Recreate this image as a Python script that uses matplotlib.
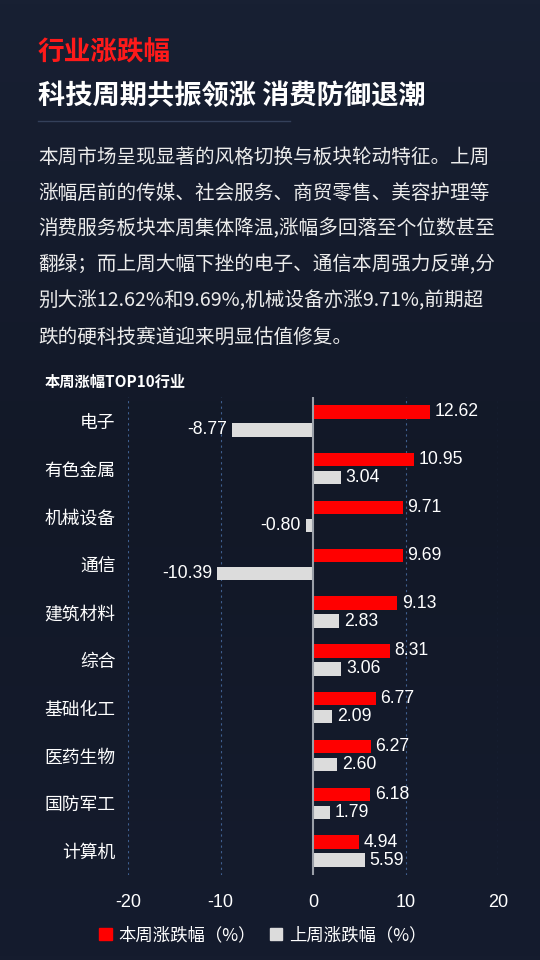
import matplotlib
matplotlib.use("Agg")
import matplotlib.pyplot as plt
import numpy as np
from matplotlib.patches import Rectangle
from matplotlib.colors import LinearSegmentedColormap

plt.rcParams['font.family'] = ['Noto Sans CJK SC', 'DejaVu Sans']

categories = ["电子", "有色金属", "机械设备", "通信", "建筑材料", "综合", "基础化工", "医药生物", "国防军工", "计算机"]
this_week = [12.62, 10.95, 9.71, 9.69, 9.13, 8.31, 6.77, 6.27, 6.18, 4.94]
last_week = [-8.77, 3.04, -0.80, -10.39, 2.83, 3.06, 2.09, 2.60, 1.79, 5.59]
xticks = [-20, -10, 0, 10, 20]

title = "行业涨跌幅"
subtitle = "科技周期共振领涨 消费防御退潮"
paragraph = [
    "本周市场呈现显著的风格切换与板块轮动特征。上周",
    "涨幅居前的传媒、社会服务、商贸零售、美容护理等",
    "消费服务板块本周集体降温,涨幅多回落至个位数甚至",
    "翻绿；而上周大幅下挫的电子、通信本周强力反弹,分",
    "别大涨12.62%和9.69%,机械设备亦涨9.71%,前期超",
    "跌的硬科技赛道迎来明显估值修复。",
]
chart_title = "本周涨幅TOP10行业"
legend_labels = ["本周涨跌幅（%）", "上周涨跌幅（%）"]

BG = "#141a2b"
RED = "#ff0000"
GRAY = "#dcdcdc"
NUMFONT = ['Liberation Sans', 'DejaVu Sans']

fig = plt.figure(figsize=(5.4, 9.6), dpi=100)
fig.patch.set_facecolor(BG)

bg = fig.add_axes([0, 0, 1, 1], zorder=-10)
grad = np.linspace(0, 1, 256).reshape(-1, 1)
cmap = LinearSegmentedColormap.from_list("bg", ["#182033", "#121827", "#151c2e"])
bg.imshow(grad, aspect='auto', cmap=cmap, extent=[0, 1, 0, 1])
bg.axis('off')

fig.text(38/540, 1-52/960, title, color="#ff1a1a", fontsize=19.2, fontweight='bold', va='center', ha='left')
fig.text(38/540, 1-96/960, subtitle, color="white", fontsize=19.6, fontweight='bold', va='center', ha='left')
fig.add_artist(plt.Line2D([38/540, 290/540], [1-121/960, 1-121/960], color="#34405a", lw=1))

for i, line in enumerate(paragraph):
    fig.text(38/540, 1-(157+36*i)/960, line, color="#ececec", fontsize=14.1, va='center', ha='left')

fig.text(45/540, 1-382/960, chart_title, color="white", fontsize=11, fontweight='bold', va='center', ha='left')

ax = fig.add_axes([128/540, 1-875/960, 370/540, 478/960])
ax.set_facecolor('none')
y = np.arange(len(categories))
h = 0.28
off = 0.19
ax.barh(y - off, this_week, height=h, color=RED, zorder=3)
ax.barh(y + off, last_week, height=h, color=GRAY, zorder=3)

ax.set_xlim(-20, 20)
ax.set_ylim(len(categories) - 0.5, -0.5)
ax.set_xticks(xticks)
ax.set_xticklabels([str(t) for t in xticks], family=NUMFONT)
ax.set_yticks(y)
ax.set_yticklabels(categories)
ax.tick_params(axis='x', colors='white', labelsize=13, length=0, pad=14)
ax.tick_params(axis='y', colors='white', labelsize=12.8, length=0, pad=9)
for s in ax.spines.values():
    s.set_visible(False)
for t in [-20, -10, 10, 20]:
    ax.axvline(t, color="#3f5f8f", lw=0.8, ls=(0, (2, 3)), zorder=1)
ax.axvline(0, color="#9a9fa8", lw=1.5, zorder=4)

for yi, v in zip(y - off, this_week):
    ax.text(v + (0.5 if v >= 0 else -0.5), yi, f"{v:.2f}", color="white", fontsize=12.7,
            va='center', ha='left' if v >= 0 else 'right', family=NUMFONT)
for yi, v in zip(y + off, last_week):
    ax.text(v + (0.5 if v >= 0 else -0.5), yi, f"{v:.2f}", color="white", fontsize=12.7,
            va='center', ha='left' if v >= 0 else 'right', family=NUMFONT)

leg = ax.legend(handles=[Rectangle((0, 0), 1, 1, color=RED), Rectangle((0, 0), 1, 1, color=GRAY)],
                labels=legend_labels, loc='center',
                bbox_to_anchor=((263/540 - 128/540) / (370/540), (875 - 935) / 478),
                ncol=2, frameon=False, fontsize=12.5, labelcolor='white', handlelength=0.7, handleheight=0.7,
                handletextpad=0.4, columnspacing=0.8, bbox_transform=ax.transAxes)

fig.savefig("out.png", dpi=100, facecolor=BG)
